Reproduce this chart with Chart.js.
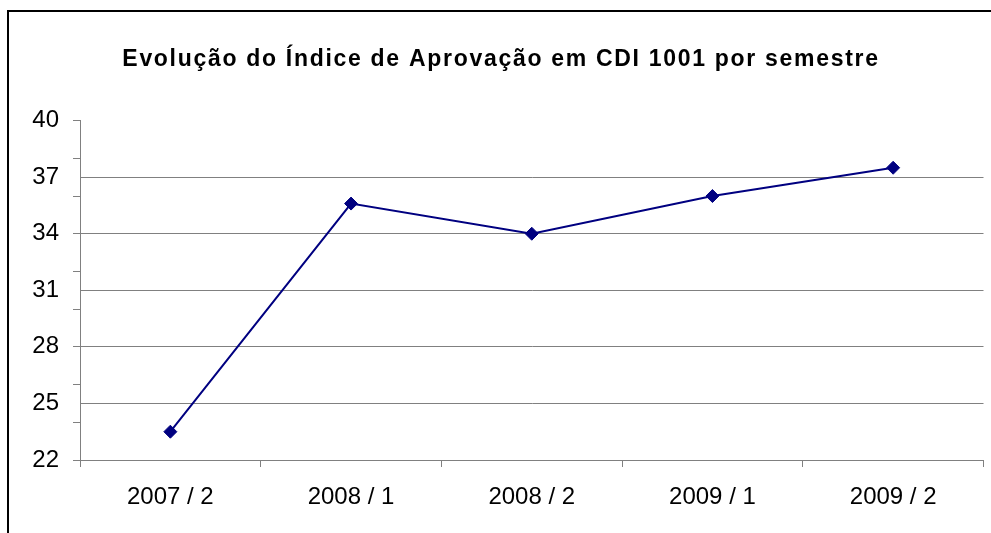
<!DOCTYPE html>
<html>
<head>
<meta charset="utf-8">
<script src="https://cdn.jsdelivr.net/npm/chart.js@4"></script>
<style>
  body { margin: 0; background: #fff; }
  #wrap { position: relative; width: 991px; height: 533px; }
  #frame {
    position: absolute; left: 7px; top: 10px; right: -10px; bottom: -10px;
    border-left: 2px solid #000; border-top: 2px solid #000;
    pointer-events: none;
  }
</style>
</head>
<body>
<div id="wrap">
  <canvas id="myChart" width="991" height="533"></canvas>
  <div id="frame"></div>
</div>
<script>
'use strict';

// semesters and approval index
const semesters = ['2007 / 2', '2008 / 1', '2008 / 2', '2009 / 1', '2009 / 2'];
const approvalIndex = [23.5, 35.6, 34.0, 36.0, 37.5];
const yMin = 22;
const yMax = 40;
const labelStep = 3; // labels + gridlines every 3
const tickStep = 2;  // small tick marks every 2

const chartCanvas = document.getElementById('myChart');

// excel spreads the title letters out a bit, canvas letterSpacing does the same
const spacedTitle = {
  id: 'spacedTitle',
  afterLayout: function(chart) {
    const box = chart.titleBlock;
    if (!box || box._spaced) return;
    const origDraw = box.draw.bind(box);
    box.draw = function() {
      chart.ctx.save();
      chart.ctx.letterSpacing = '1.7px';
      origDraw();
      chart.ctx.restore();
    };
    box._spaced = true;
  }
};

const chartObj = new Chart(chartCanvas, {
  type: 'line',
  data: {
    labels: semesters,
    datasets: [{
      label: 'Índice de Aprovação',
      data: approvalIndex,
      borderColor: '#000080',
      backgroundColor: '#000080',
      borderWidth: 2,
      pointStyle: 'rectRot',
      pointRadius: 6.5,
      pointBorderWidth: 1,
      tension: 0
    }]
  },
  plugins: [spacedTitle],
  options: {
    responsive: false,
    animation: false,
    layout: { padding: { left: 17, right: 6, top: 0, bottom: 0 } },
    plugins: {
      legend: { display: false },
      tooltip: { enabled: false },
      title: {
        display: true,
        text: 'Evolução do Índice de Aprovação em CDI 1001 por semestre',
        color: '#000',
        font: { family: 'Liberation Sans', size: 23, weight: 'bold' },
        padding: { top: 46, bottom: 47 }
      }
    },
    scales: {
      x: {
        offset: true,
        grid: {
          offset: true,
          drawOnChartArea: false,
          tickLength: 7,
          tickColor: '#808080'
        },
        border: { color: '#808080' },
        ticks: {
          color: '#000',
          padding: 16,
          maxRotation: 0,
          font: { family: 'Liberation Sans', size: 24 }
        },
        afterFit: function(scale) { scale.height = 73; }
      },
      y: {
        min: yMin,
        max: yMax,
        grid: {
          tickLength: 7,
          color: function(ctx) {
            const v = ctx.tick ? ctx.tick.value : 0;
            return ((v - yMin) % labelStep === 0 && v !== yMax) ? '#808080' : 'rgba(0,0,0,0)';
          },
          tickColor: function(ctx) {
            const v = ctx.tick ? ctx.tick.value : 0;
            return ((v - yMin) % tickStep === 0) ? '#808080' : 'rgba(0,0,0,0)';
          }
        },
        border: { color: '#808080' },
        ticks: {
          stepSize: 1,
          maxTicksLimit: 100,
          autoSkip: false,
          color: '#000',
          padding: 14,
          font: { family: 'Liberation Sans', size: 24 },
          callback: function(value) {
            return (value - yMin) % labelStep === 0 ? value : '';
          }
        },
        afterFit: function(scale) { scale.width = 63; }
      }
    }
  }
});
</script>
</body>
</html>
